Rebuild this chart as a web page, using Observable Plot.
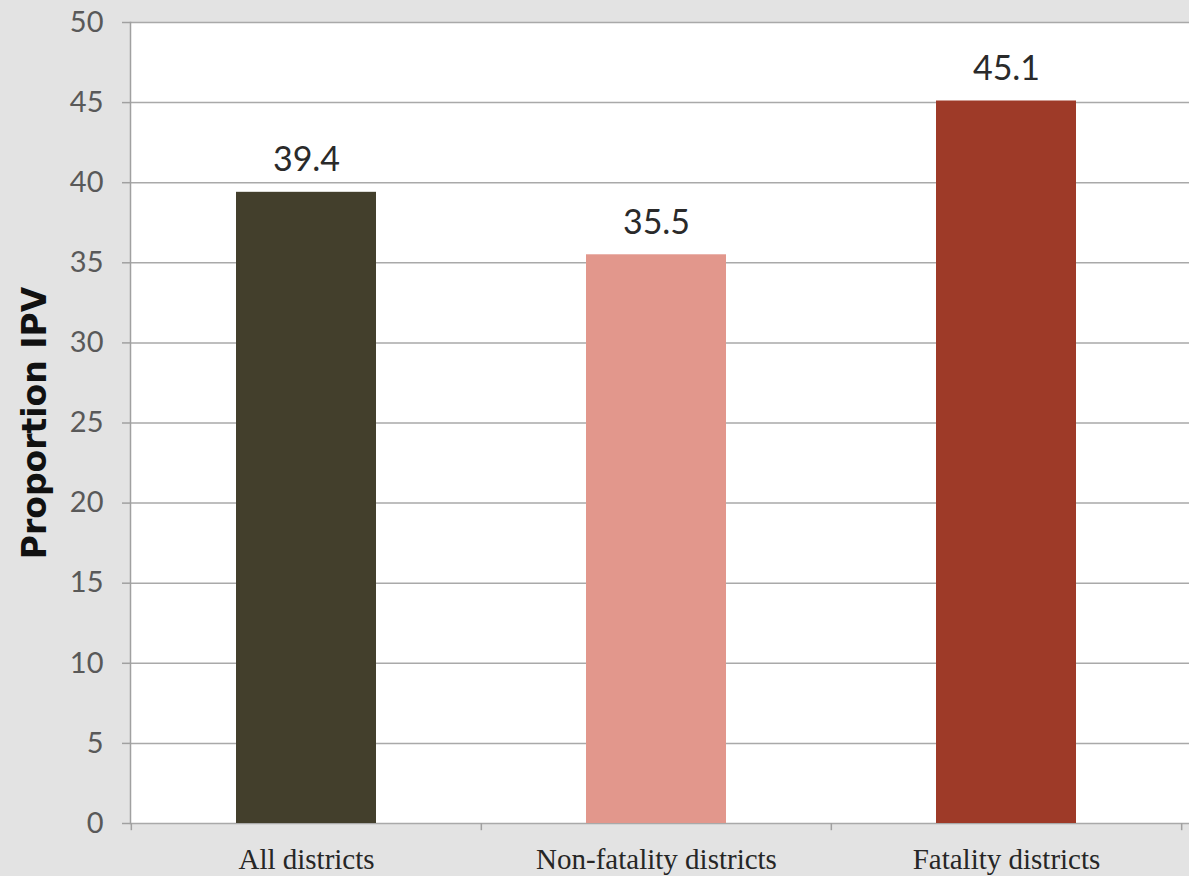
<!DOCTYPE html>
<html>
<head>
<meta charset="utf-8">
<script src="https://cdn.jsdelivr.net/npm/d3@7"></script>
<script src="https://cdn.jsdelivr.net/npm/@observablehq/plot@0.6"></script>
<style>
  html, body { margin: 0; padding: 0; background: #e3e3e3; overflow: hidden; }
  #chart svg { display: block; }
</style>
</head>
<body>
<div id="chart"></div>
<script>
const categories = ["All districts", "Non-fatality districts", "Fatality districts"];
const values = [39.4, 35.5, 45.1];
const colors = ["#433f2c", "#e2978c", "#9e3a28"];
const yTicks = [0, 5, 10, 15, 20, 25, 30, 35, 40, 45, 50];
const yLabel = "Proportion IPV";

const data = categories.map((c, i) => ({category: c, value: values[i], color: colors[i]}));

const W = 1189, H = 876;
const left = 130, right = 1181;
const step = (right - left) / categories.length;

const chart = Plot.plot({
  width: W,
  height: H,
  marginLeft: left,
  marginRight: 0,
  marginTop: 22,
  marginBottom: 53,
  style: {background: "transparent", overflow: "visible"},
  x: {type: "band", domain: categories, range: [left, right], paddingInner: 0.6, paddingOuter: 0.3},
  y: {domain: [0, 50]},
  marks: [
    Plot.frame({fill: "white", stroke: null}),
    Plot.gridY(yTicks, {stroke: "#a9a9a9", strokeOpacity: 1, strokeWidth: 1.5}),
    Plot.frame({anchor: "left", stroke: "#a0a0a0", strokeWidth: 1.5}),
    Plot.barY(data, {x: "category", y: "value", fill: "color"}),
    Plot.text(data, {x: "category", y: "value", text: d => d.value.toFixed(1), dy: -32, fontSize: 34, fontFamily: "Lato", fill: "#2a2a2a"}),
    Plot.ruleX(categories, {x: d => d, dx: -step / 2, y1: 0, y2: -0.45, stroke: "#a0a0a0", strokeWidth: 1.5}),
    Plot.ruleX([categories[categories.length - 1]], {x: d => d, dx: step / 2, y1: 0, y2: -0.45, stroke: "#a0a0a0", strokeWidth: 1.5}),
    Plot.axisY(yTicks, {tickSize: 8, tickPadding: 19, stroke: "#a0a0a0", strokeWidth: 1.5, fill: "#595959", fontSize: 29, fontFamily: "Lato", label: null}),
    Plot.axisX({tickSize: 0, tickPadding: 25, fontSize: 29, fontFamily: "Liberation Serif", fill: "#262626", label: null}),
    Plot.text([yLabel], {frameAnchor: "left", textAnchor: "middle", rotate: -90, dx: -95, fontSize: 33, fontWeight: "bold", fontFamily: "DejaVu Sans", fill: "#111"})
  ]
});
document.getElementById("chart").appendChild(chart);
</script>
</body>
</html>
